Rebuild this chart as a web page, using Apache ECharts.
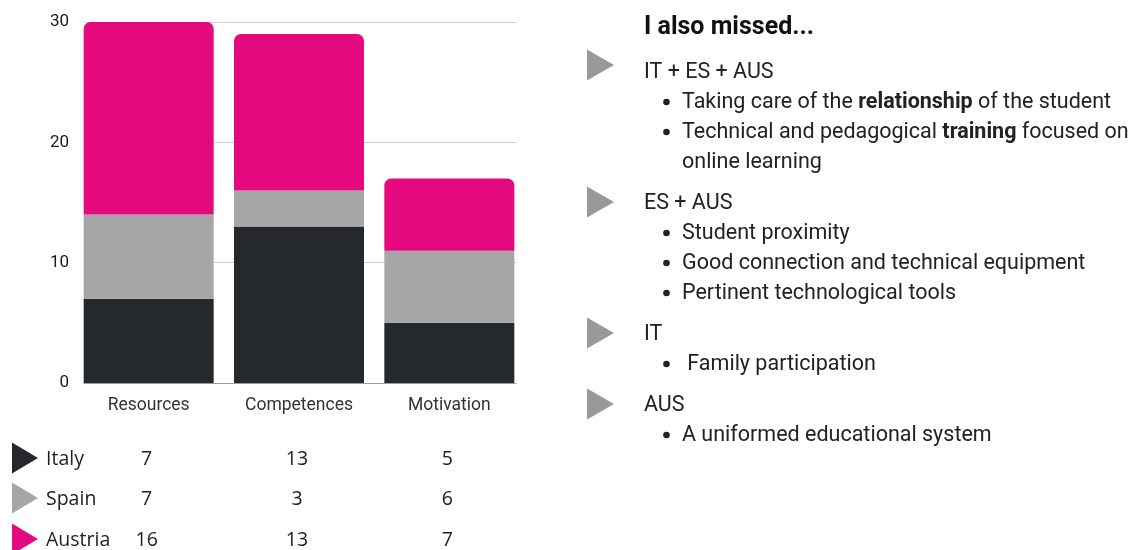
<!DOCTYPE html>
<html>
<head>
<meta charset="utf-8">
<script src="https://cdn.jsdelivr.net/npm/echarts@6/dist/echarts.min.js"></script>
<style>
  html, body { margin: 0; padding: 0; background: #fff; }
  #main { width: 1144px; height: 550px; }
</style>
</head>
<body>
<div id="main"></div>
<script>
// data
var categories = ['Resources', 'Competences', 'Motivation'];
var countries = ['Italy', 'Spain', 'Austria'];
// bar heights as drawn
var italy = [7, 13, 5];
var spain = [7, 3, 6];
var austria = [16, 13, 6];
// numbers as printed in the table under the chart
var italyPrinted = [7, 13, 5];
var spainPrinted = [7, 3, 6];
var austriaPrinted = [16, 13, 7];
var yTicks = [0, 10, 20, 30];

var missedTitle = 'I also missed...';
var missedGroups = ['IT + ES + AUS', 'ES + AUS', 'IT', 'AUS'];
var missedItems = [
    ['Taking care of the {b|relationship} of the student', 'Technical and pedagogical {b|training} focused on\nonline learning'],
    ['Student proximity', 'Good connection and technical equipment', 'Pertinent technological tools'],
    [' Family participation'],
    ['A uniformed educational system']
];

var colors = ['#25282d', '#a6a6a6', '#e5097f'];
var seriesData = [italy, spain, austria];
var printedData = [italyPrinted, spainPrinted, austriaPrinted];

var chart = echarts.init(document.getElementById('main'));

var series = countries.map(function (name, i) {
    return {
        name: name,
        type: 'bar',
        stack: 'total',
        xAxisIndex: 0,
        yAxisIndex: 0,
        barWidth: 130,
        data: seriesData[i],
        itemStyle: {
            color: colors[i],
            borderRadius: i === countries.length - 1 ? [7, 7, 0, 0] : 0
        }
    };
});

chart.setOption({
    animation: false,
    textStyle: { fontFamily: 'Roboto' },
    grid: [
        // bars
        { left: 73.5, right: 619.5, top: 22, bottom: 167 },
        // gridlines + y labels
        { left: 84, right: 628, top: 22, bottom: 167 }
    ],
    xAxis: [{
        type: 'category',
        gridIndex: 0,
        data: categories,
        axisLine: { show: false },
        axisTick: { show: false },
        axisLabel: { color: '#333', fontSize: 17.5, margin: 14 }
    }, {
        type: 'value',
        gridIndex: 1,
        min: 0, max: 1,
        axisLine: { show: true, lineStyle: { color: '#9a9a9a', width: 1 } },
        axisTick: { show: false },
        axisLabel: { show: false },
        splitLine: { show: false }
    }],
    yAxis: [{
        type: 'value',
        gridIndex: 0,
        min: yTicks[0], max: yTicks[yTicks.length - 1],
        show: false,
        splitLine: { show: false }
    }, {
        type: 'value',
        gridIndex: 1,
        min: yTicks[0], max: yTicks[yTicks.length - 1],
        interval: yTicks[1] - yTicks[0],
        axisLine: { show: false },
        axisTick: { show: false },
        axisLabel: { color: '#1a1a1a', fontSize: 17, margin: 15 },
        splitLine: { lineStyle: { color: '#cfcfcf', width: 1 } }
    }],
    series: series
});

// table below the bars + the notes on the right
var graphics = [];

function tri(x, cy, w, h, fill) {
    return {
        type: 'polygon',
        shape: { points: [[x, cy - h / 2], [x + w, cy], [x, cy + h / 2]] },
        style: { fill: fill }
    };
}

var rowY = [459, 499, 540];
countries.forEach(function (name, i) {
    graphics.push(tri(12, rowY[i] - 1, 26, 31, colors[i]));
    graphics.push({
        type: 'text', x: 46, y: rowY[i],
        style: { text: name, font: '19.5px "Open Sans"', fill: '#222', textVerticalAlign: 'middle' }
    });
    categories.forEach(function (c, j) {
        var px = chart.convertToPixel({ xAxisIndex: 0 }, c);
        graphics.push({
            type: 'text', x: px - 2, y: rowY[i],
            style: {
                text: String(printedData[i][j]), font: '19.5px "Open Sans"', fill: '#222',
                textAlign: 'center', textVerticalAlign: 'middle'
            }
        });
    });
});

graphics.push({
    type: 'text', x: 644, y: 28,
    style: { text: missedTitle, font: 'bold 25px Roboto', fill: '#111', textVerticalAlign: 'middle' }
});

var y = 71;
missedGroups.forEach(function (g, i) {
    graphics.push(tri(587, i === 0 ? y - 6 : y, 27, 31, '#999'));
    graphics.push({
        type: 'text', x: 644, y: y + 2,
        style: { text: g, font: '21.5px Roboto', fill: '#222', textVerticalAlign: 'middle' }
    });
    missedItems[i].forEach(function (item) {
        y += 30;
        graphics.push({
            type: 'circle',
            shape: { cx: 666.5, cy: y + 1, r: 3.3 },
            style: { fill: '#222' }
        });
        graphics.push({
            type: 'text', x: 682, y: y - 13,
            style: {
                text: item, font: '21.5px Roboto', fill: '#222', lineHeight: 30,
                textVerticalAlign: 'top',
                rich: { b: { fontWeight: 'bold', fontSize: 21.5, fontFamily: 'Roboto', lineHeight: 30 } }
            }
        });
        y += (item.split('\n').length - 1) * 30;
    });
    y += 41;
});

chart.setOption({ graphic: graphics });
</script>
</body>
</html>
